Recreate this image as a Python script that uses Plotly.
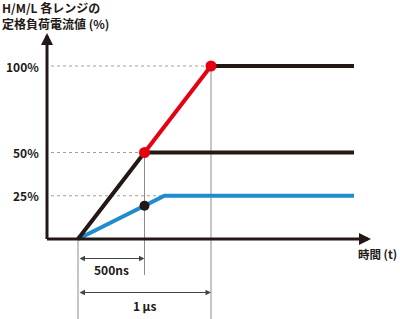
import plotly.graph_objects as go

# ---- data (time in µs, value in % of rated load current) ----
black_t = [0.0, 0.5, 2.075]
black_v = [0, 50, 50]
red_t = [0.5, 1.0]
red_v = [50, 100]
top_t = [1.0, 2.075]
top_v = [100, 100]
blue_t = [0.0, 0.65, 2.075]
blue_v = [0, 25, 25]
red_dot_t = [0.5, 1.0]
red_dot_v = [50, 100]
black_dot_t = [0.5]
black_dot_v = [19.2]
tick_vals = [100, 50, 25]
tick_text = ["100%", "50%", "25%"]
dash_ends_t = [1.0, 0.5, 0.65]
title_lines = ["H/M/L 各レンジの", "定格負荷電流値 (%)"]
x_label = "時間 (t)"
dim_labels = ["500ns", "1\u2009µs"]
dim_ends_t = [0.5, 1.0]

BLACK = "#231815"
RED = "#e60012"
BLUE = "#1f8ccd"
GRAY = "#8c8c8c"
DASH = "#a0a0a0"
FONT = "Noto Sans CJK JP"

W, H = 400, 319
PX_PER_T = 133.0
PX_PER_V = 1.73
X0_PX, Y0_PX = 78.0, 239.0
x_range = [-X0_PX / PX_PER_T, (W - X0_PX) / PX_PER_T]
y_range = [(Y0_PX - H) / PX_PER_V, Y0_PX / PX_PER_V]

AX_T = (47 - X0_PX) / PX_PER_T
X_TIP = (371 - X0_PX) / PX_PER_T
Y_TIP = (Y0_PX - 33) / PX_PER_V
DASH_START = (51 - X0_PX) / PX_PER_T
TICK_T = (41 - X0_PX) / PX_PER_T

fig = go.Figure()

line_w = 4
fig.add_trace(go.Scatter(x=blue_t, y=blue_v, mode="lines",
                         line=dict(color=BLUE, width=line_w)))
fig.add_trace(go.Scatter(x=black_t, y=black_v, mode="lines",
                         line=dict(color=BLACK, width=line_w)))
fig.add_trace(go.Scatter(x=top_t, y=top_v, mode="lines",
                         line=dict(color=BLACK, width=line_w)))
fig.add_trace(go.Scatter(x=red_t, y=red_v, mode="lines",
                         line=dict(color=RED, width=line_w)))
fig.add_trace(go.Scatter(x=red_dot_t, y=red_dot_v, mode="markers",
                         marker=dict(color=RED, size=11)))
fig.add_trace(go.Scatter(x=black_dot_t, y=black_dot_v, mode="markers",
                         marker=dict(color=BLACK, size=10)))

shapes = []
# dashed guide lines
for v, te in zip(tick_vals, dash_ends_t):
    shapes.append(dict(type="line", xref="x", yref="y", x0=DASH_START, x1=te,
                       y0=v, y1=v, layer="below",
                       line=dict(color=DASH, width=1, dash="3px,3px")))
# vertical gray lines
shapes.append(dict(type="line", xref="x", yref="y", x0=0, x1=0, y0=0,
                   y1=y_range[0], layer="below", line=dict(color=GRAY, width=1)))
shapes.append(dict(type="line", xref="x", yref="y", x0=dim_ends_t[0], x1=dim_ends_t[0],
                   y0=50, y1=(Y0_PX - 275) / PX_PER_V, layer="below",
                   line=dict(color=GRAY, width=1)))
shapes.append(dict(type="line", xref="x", yref="y", x0=dim_ends_t[1], x1=dim_ends_t[1],
                   y0=100, y1=y_range[0], layer="below", line=dict(color=GRAY, width=1)))

annotations = []
# axes with arrows
annotations.append(dict(x=X_TIP, y=0, ax=AX_T - 1.5 / PX_PER_T, ay=0,
                        xref="x", yref="y", axref="x", ayref="y", text="",
                        showarrow=True, arrowhead=2, arrowwidth=3, arrowsize=0.8,
                        arrowcolor=BLACK))
annotations.append(dict(x=AX_T, y=Y_TIP, ax=AX_T, ay=-1.5 / PX_PER_V,
                        xref="x", yref="y", axref="x", ayref="y", text="",
                        showarrow=True, arrowhead=2, arrowwidth=3, arrowsize=0.8,
                        arrowcolor=BLACK))
# tick labels
for v, t in zip(tick_vals, tick_text):
    annotations.append(dict(x=TICK_T, y=v, xref="x", yref="y", text=t,
                            showarrow=False, xanchor="right", yanchor="middle",
                            font=dict(family=FONT, size=12, color=BLACK, weight="bold")))
# dimension arrows
dim_y = [(Y0_PX - 258.5) / PX_PER_V, (Y0_PX - 292.5) / PX_PER_V]
dim_label_y = [(Y0_PX - 269) / PX_PER_V, (Y0_PX - 305) / PX_PER_V]
for te, yy, ly, lab in zip(dim_ends_t, dim_y, dim_label_y, dim_labels):
    annotations.append(dict(x=te, y=yy, ax=0, ay=yy, xref="x", yref="y",
                            axref="x", ayref="y", text="", showarrow=True,
                            arrowhead=2, startarrowhead=2, arrowside="end+start",
                            arrowwidth=1, arrowsize=1.1, startarrowsize=1.1,
                            arrowcolor="#444444"))
    annotations.append(dict(x=te / 2, y=ly, xref="x", yref="y", text=lab,
                            showarrow=False, xanchor="center", yanchor="middle",
                            font=dict(family=FONT, size=12, color=BLACK, weight="bold")))
# title lines
for i, line in enumerate(title_lines):
    annotations.append(dict(x=0, y=1 - (7 + 17 * i) / H, xref="paper", yref="paper",
                            text=line, showarrow=False, xanchor="left", yanchor="middle",
                            font=dict(family=FONT, size=12, color=BLACK, weight="bold")))
# x label
annotations.append(dict(x=(399 - X0_PX) / PX_PER_T, y=(Y0_PX - 254) / PX_PER_V,
                        xref="x", yref="y", text=x_label, showarrow=False,
                        xanchor="right", yanchor="middle",
                        font=dict(family=FONT, size=11.5, color=BLACK, weight="bold")))

fig.update_layout(
    width=W, height=H, margin=dict(l=0, r=0, t=0, b=0),
    paper_bgcolor="white", plot_bgcolor="white", showlegend=False,
    xaxis=dict(range=x_range, visible=False, fixedrange=True),
    yaxis=dict(range=y_range, visible=False, fixedrange=True),
    shapes=shapes, annotations=annotations,
)
fig.write_html("out.html", config={"displayModeBar": False})
